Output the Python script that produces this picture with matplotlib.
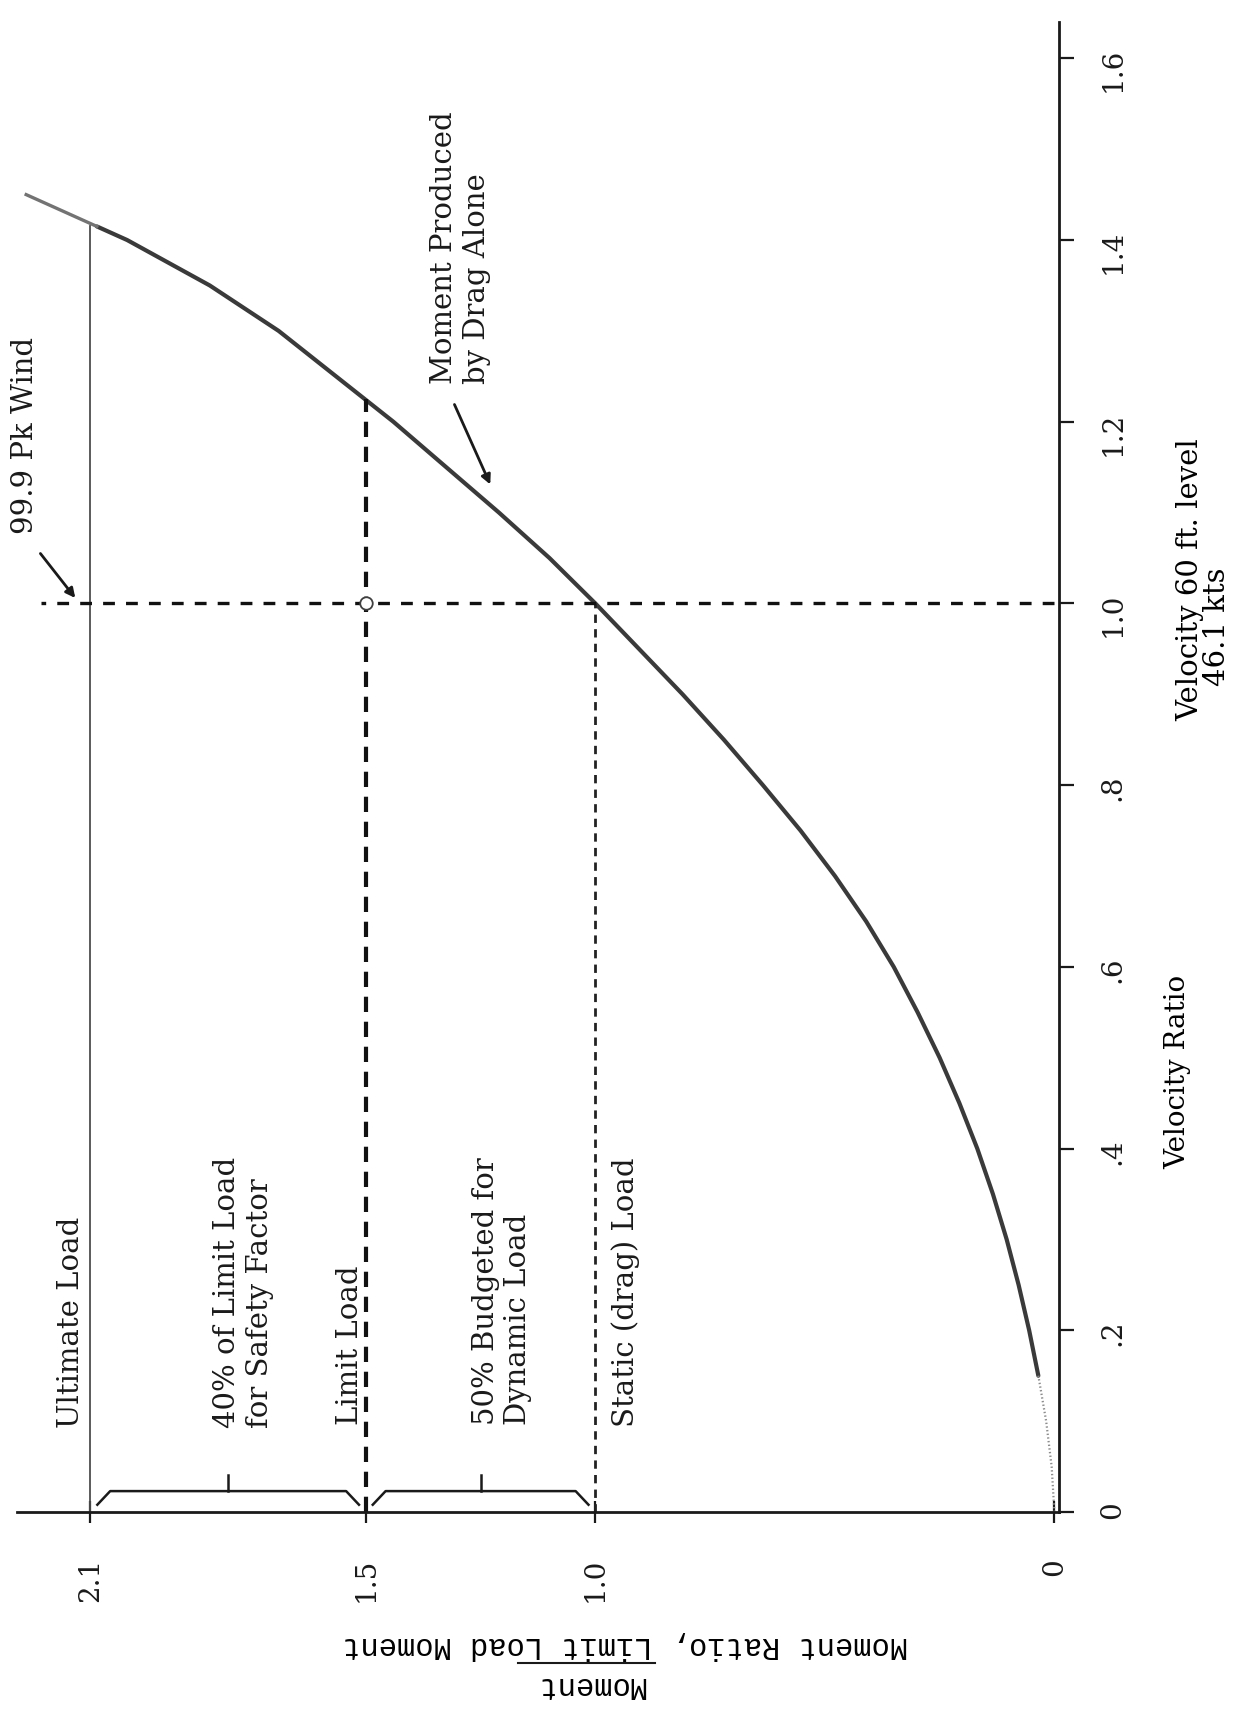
import matplotlib
matplotlib.use('Agg')
import matplotlib.pyplot as plt
from matplotlib.lines import Line2D

plt.rcParams['font.family'] = ['DejaVu Serif']
plt.rcParams['lines.scale_dashes'] = False

# curve: moment ratio at each velocity ratio
velocity = [0.0, 0.05, 0.1, 0.15, 0.2, 0.25, 0.3, 0.35, 0.4, 0.45, 0.5, 0.55,
            0.6, 0.65, 0.7, 0.75, 0.8, 0.85, 0.9, 0.95, 1.0, 1.05, 1.1, 1.15,
            1.2, 1.25, 1.3, 1.35, 1.4, 1.415, 1.45]
moment = [0.0, 0.006, 0.018, 0.035, 0.055, 0.078, 0.104, 0.134, 0.168, 0.207,
          0.25, 0.298, 0.35, 0.41, 0.478, 0.553, 0.635, 0.72, 0.81, 0.905,
          1.0, 1.10, 1.21, 1.325, 1.44, 1.565, 1.69, 1.84, 2.02, 2.086, 2.24]

# load levels (moment ratio) and the velocity where each line stops
load_names = ['Ultimate Load', 'Limit Load', 'Static (drag) Load']
load_levels = [2.1, 1.5, 1.0]
load_top = [1.415, 1.225, 1.0]

design_velocity = 1.0
design_line_end = 2.207

vel_ticks = [0.0, 0.2, 0.4, 0.6, 0.8, 1.0, 1.2, 1.4, 1.6]
vel_labels = ['0', '.2', '.4', '.6', '.8', '1.0', '1.2', '1.4', '1.6']
mom_ticks = [2.1, 1.5, 1.0, 0.0]
mom_labels = ['2.1', '1.5', '1.0', '0']

fig = plt.figure(figsize=(12.41, 17.09), dpi=100)
ax = fig.add_axes([17 / 1241, 197 / 1709, 1042 / 1241, 1490 / 1709])
ax.set_xlim(2.26, -0.01)
ax.set_ylim(0, 1.64)

for s in ['top', 'left']:
	ax.spines[s].set_visible(False)
for s in ['bottom', 'right']:
	ax.spines[s].set_linewidth(2.0)
	ax.spines[s].set_color('#1a1a1a')
ax.spines['right'].set_position(('data', -0.01))

# curve (faint near origin and past the ultimate load)
ax.plot(moment[3:-1], velocity[3:-1], color='#3a3a3a', lw=3.0,
        solid_capstyle='round', solid_joinstyle='round')
ax.plot(moment[:4], velocity[:4], color='0.55', lw=1.6, ls=':')
ax.plot(moment[-2:], velocity[-2:], color='0.45', lw=2.4)

# load lines
ax.plot([load_levels[0]] * 2, [0, load_top[0]], color='0.3', lw=1.3)
ax.plot([load_levels[1]] * 2, [0, load_top[1]], color='#111111', lw=3.0,
        dashes=(11, 7))
ax.plot([load_levels[2]] * 2, [0, load_top[2]], color='#222222', lw=2.0,
        dashes=(6, 4.5))
ax.plot([0, design_line_end], [design_velocity] * 2, color='#111111', lw=2.4,
        dashes=(8.5, 8))
ax.plot([load_levels[1]], [design_velocity], marker='o', ms=9, mfc='white',
        mec='0.25', mew=1.3, ls='none')

# braces between the load levels
v_low, v_high, v_tip, dm = 0.008, 0.023, 0.041, 0.028
for a, b in [(load_levels[0], load_levels[1]), (load_levels[1], load_levels[2])]:
	a2 = a - 0.015
	b2 = b + 0.015
	ax.plot([a2, a2 - dm, b2 + dm, b2], [v_low, v_high, v_high, v_low],
	        color='#1a1a1a', lw=1.8)
	mid = (a + b) / 2
	ax.plot([mid, mid], [v_high, v_tip], color='#1a1a1a', lw=1.8)

txt = dict(rotation=90, ha='center', va='bottom', fontsize=21,
           multialignment='left', color='#1a1a1a')
ax.text(2.142, 0.092, 'Ultimate Load', **txt)
ax.text(1.767, 0.092, '40% of Limit Load\nfor Safety Factor', **txt)
ax.text(1.534, 0.096, 'Limit Load', **txt)
ax.text(1.203, 0.096, '50% Budgeted for\nDynamic Load', **txt)
ax.text(0.935, 0.094, 'Static (drag) Load', **txt)
ax.text(2.242, 1.077, '99.9 Pk Wind', **txt)
ax.text(1.294, 1.242, 'Moment Produced\nby Drag Alone', **txt)

arrow = dict(arrowstyle='-|>', color='#1a1a1a', lw=2.0, mutation_scale=14,
             shrinkA=0, shrinkB=0)
ax.annotate('', xy=(2.133, 1.006), xytext=(2.209, 1.055), arrowprops=arrow)
ax.annotate('', xy=(1.229, 1.131), xytext=(1.307, 1.219), arrowprops=arrow)

# axes ticks
ax.yaxis.tick_right()
ax.set_yticks(vel_ticks, vel_labels)
ax.tick_params(axis='y', direction='out', length=11, width=1.6, pad=18,
               labelsize=20, labelrotation=90, colors='#1a1a1a')
ax.set_xticks(mom_ticks, mom_labels)
ax.tick_params(axis='x', direction='inout', length=16, width=1.6, pad=25,
               labelsize=20, labelrotation=90, colors='#1a1a1a')

ax.yaxis.set_label_position('right')
ax.set_ylabel('Velocity Ratio', fontsize=20, rotation=90, ha='center', va='center')
ax.yaxis.set_label_coords(1.1142, 0.2953)

ax.text(1.1257, 0.6255, 'Velocity 60 ft. level', transform=ax.transAxes,
        rotation=90, ha='center', va='center', fontsize=21)
ax.text(1.1516, 0.594, '46.1 kts', transform=ax.transAxes,
        rotation=90, ha='center', va='center', fontsize=21)

# moment axis label, upside down like the scanned page
ax.set_xlabel('Moment Ratio, Limit Load Moment', fontsize=22, rotation=180,
              family='Liberation Mono', ha='center', va='center')
ax.xaxis.set_label_coords(0.5835, -0.0893)
ax.text(0.550, -0.1161, 'Moment', transform=ax.transAxes, rotation=180,
        ha='center', va='center', fontsize=22, family='Liberation Mono')
ax.add_line(Line2D([0.481, 0.612], [-0.1013, -0.1013], transform=ax.transAxes,
                   color='#1a1a1a', lw=1.5, clip_on=False))

fig.savefig('out.png', dpi=100, facecolor='white')
